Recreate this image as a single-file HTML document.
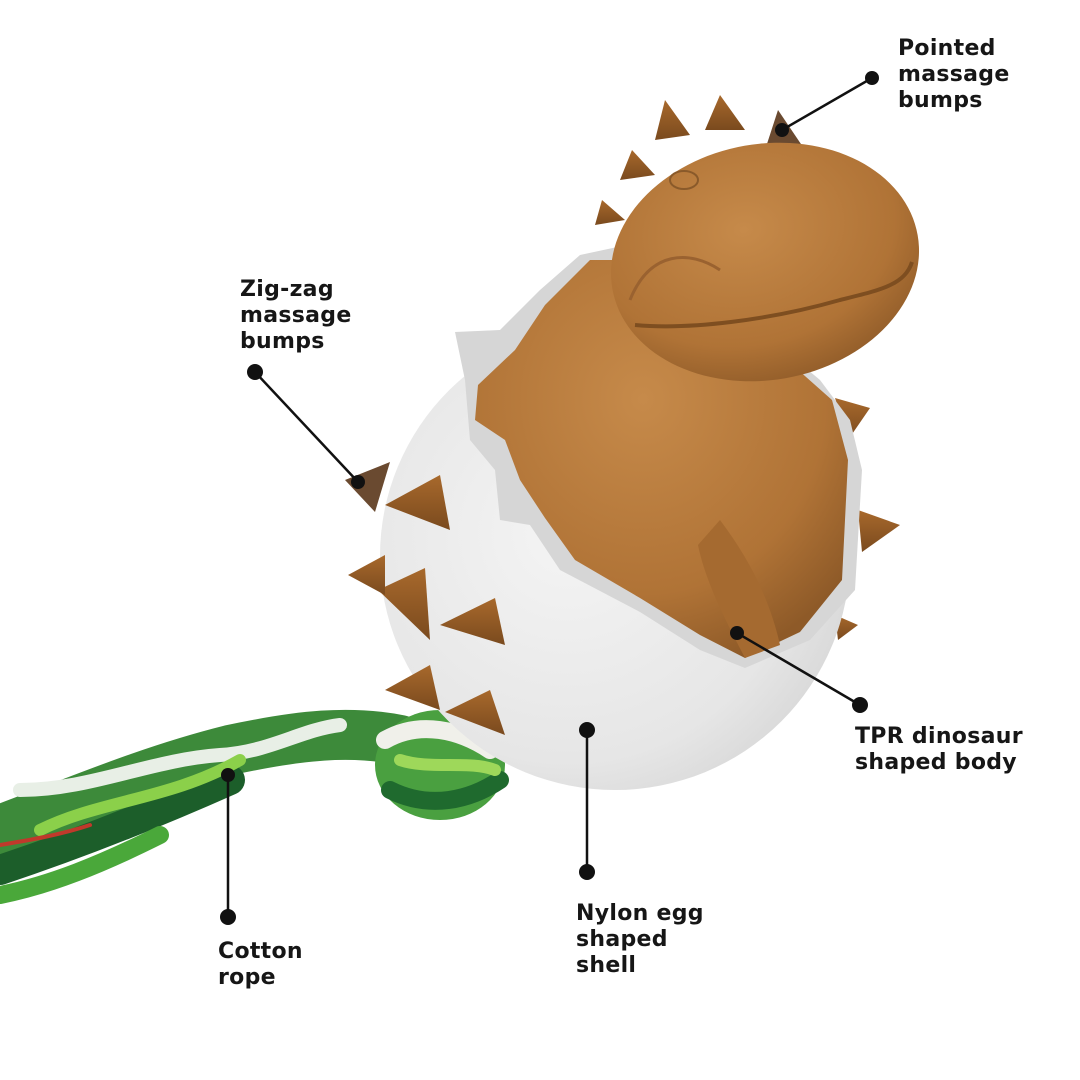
<!DOCTYPE html>
<html><head><style>
html,body{margin:0;padding:0;background:#fff}
.l{position:absolute;font-family:"DejaVu Sans","Liberation Sans",sans-serif;font-size:22px;font-weight:bold;line-height:26px;color:#161616;letter-spacing:0.3px}
</style></head><body>
<div style="position:relative;width:1080px;height:1080px;overflow:hidden">
<svg width="1080" height="1080" viewBox="0 0 1080 1080" style="position:absolute;left:0;top:0">
<defs>
<radialGradient id="egg" cx="0.4" cy="0.45" r="0.7"><stop offset="0" stop-color="#f4f4f4"/><stop offset="0.7" stop-color="#e6e6e6"/><stop offset="1" stop-color="#d2d2d2"/></radialGradient>
<radialGradient id="br" cx="0.45" cy="0.35" r="0.7"><stop offset="0" stop-color="#c68a4a"/><stop offset="0.7" stop-color="#b07336"/><stop offset="1" stop-color="#8e5a28"/></radialGradient>
<linearGradient id="sp" x1="0" y1="0" x2="0" y2="1"><stop offset="0" stop-color="#a8692c"/><stop offset="1" stop-color="#7a4a1e"/></linearGradient>
</defs>
<!-- rope -->
<g stroke-linecap="round" fill="none">
<path d="M0,830 C80,800 150,770 230,750 C300,735 350,730 400,740" stroke="#3d8a3a" stroke-width="50"/>
<path d="M0,870 C60,850 140,820 230,780" stroke="#1c5e2a" stroke-width="30"/>
<path d="M20,790 C90,790 150,760 220,755 C270,752 300,730 340,725" stroke="#e8efe6" stroke-width="14"/>
<path d="M40,830 C100,800 170,800 240,760" stroke="#8bd04a" stroke-width="12"/>
<path d="M0,895 C50,885 100,865 160,835" stroke="#4aa83a" stroke-width="18"/>
<path d="M0,845 C30,840 60,835 90,825" stroke="#c0392b" stroke-width="4"/>
<ellipse cx="440" cy="765" rx="65" ry="55" fill="#4aa040" stroke="none"/>
<path d="M385,740 C420,720 460,730 490,750" stroke="#f0f0ea" stroke-width="18"/>
<path d="M390,790 C430,810 470,800 500,780" stroke="#1f6a2e" stroke-width="18"/>
<path d="M400,760 C430,770 470,760 495,770" stroke="#9ed85a" stroke-width="12"/>
</g>
<!-- back spikes -->
<g fill="url(#sp)">
<path d="M835,398 L870,408 L848,440 Z"/>
<path d="M858,510 L900,525 L862,552 Z"/>
<path d="M835,615 L858,625 L838,640 Z"/>
<path d="M655,140 L665,100 L690,135 Z"/>
<path d="M705,130 L720,95 L745,130 Z"/>
<path d="M765,150 L778,110 L805,150 Z" fill="#6a4a30"/>
<path d="M620,180 L632,150 L655,175 Z"/>
<path d="M595,225 L602,200 L625,220 Z"/>
</g>
<!-- egg -->
<ellipse cx="615" cy="556" rx="235" ry="234" fill="url(#egg)"/>
<!-- crack rim -->
<path d="M455,332 L500,330 L540,290 L580,255 L650,240 L760,330 L820,380 L850,420 L862,470 L855,590 L810,640 L745,668 L700,650 L640,612 L560,570 L530,525 L500,520 L495,470 L470,440 L465,380 Z" fill="#d6d6d6"/>
<path d="M475,420 L478,385 L515,350 L545,305 L590,260 L680,260 L770,345 L832,400 L848,460 L842,580 L800,632 L745,658 L700,635 L640,598 L575,560 L545,518 L520,480 L505,440 Z" fill="url(#br)"/>
<!-- head -->
<ellipse cx="765" cy="262" rx="155" ry="118" fill="url(#br)" transform="rotate(-10 765 262)"/>
<path d="M630,300 C650,250 690,250 720,270" stroke="#9a6230" stroke-width="3" fill="none"/>
<path d="M635,325 C690,330 770,320 840,300 C880,290 905,285 912,262" stroke="#7e4e20" stroke-width="4" fill="none"/>
<ellipse cx="684" cy="180" rx="14" ry="9" fill="none" stroke="#8a5a2a" stroke-width="2"/>
<!-- arms -->
<path d="M720,520 C750,560 770,600 780,645 L745,658 C725,620 705,580 698,545 Z" fill="#a56a30"/>
<!-- front spikes on egg -->
<g fill="url(#sp)">
<path d="M385,505 L440,475 L450,530 Z"/>
<path d="M378,590 L425,568 L430,640 Z"/>
<path d="M440,625 L495,598 L505,645 Z"/>
<path d="M385,690 L430,665 L440,710 Z"/>
<path d="M445,712 L490,690 L505,735 Z"/>
<path d="M345,480 L390,462 L375,512 Z" fill="#6a4a30"/>
<path d="M348,575 L385,555 L385,595 Z"/>
</g>
<!-- connectors -->
<g stroke="#111" stroke-width="2.5" fill="none">
<line x1="872" y1="78" x2="782" y2="130"/>
<line x1="255" y1="372" x2="358" y2="482"/>
<line x1="860" y1="705" x2="737" y2="633"/>
<line x1="587" y1="730" x2="587" y2="872"/>
<line x1="228" y1="775" x2="228" y2="917"/>
</g>
<g fill="#111">
<circle cx="872" cy="78" r="7"/><circle cx="782" cy="130" r="7"/>
<circle cx="255" cy="372" r="8"/><circle cx="358" cy="482" r="7"/>
<circle cx="860" cy="705" r="8"/><circle cx="737" cy="633" r="7"/>
<circle cx="587" cy="730" r="8"/><circle cx="587" cy="872" r="8"/>
<circle cx="228" cy="775" r="7"/><circle cx="228" cy="917" r="8"/>
</g>
</svg>
<div class="l" style="left:898px;top:36px">Pointed<br>massage<br>bumps</div>
<div class="l" style="left:240px;top:277px">Zig-zag<br>massage<br>bumps</div>
<div class="l" style="left:855px;top:724px">TPR dinosaur<br>shaped body</div>
<div class="l" style="left:576px;top:901px">Nylon egg<br>shaped<br>shell</div>
<div class="l" style="left:218px;top:939px">Cotton<br>rope</div>
</div>
</body></html>
